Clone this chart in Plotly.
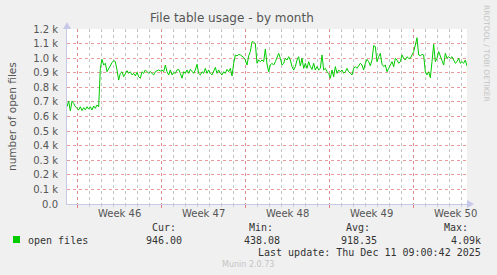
import pandas as pd
import plotly.graph_objects as go

# ---- data ----
series_start = "2025-11-09 03:20"
sample_minutes = 200
open_files = [
    667, 706, 638, 706, 690, 667, 656, 645, 667, 640,
    661, 645, 667, 651, 667, 645, 672, 656, 679, 667,
    930, 992, 953, 965, 907, 930, 953, 969, 983, 976,
    919, 850, 896, 907, 873, 896, 914, 896, 907, 885,
    896, 878, 903, 873, 862, 907, 896, 919, 907, 896,
    907, 896, 885, 907, 914, 919, 912, 919, 907, 953,
    907, 885, 919, 885, 901, 896, 919, 923, 896, 862,
    907, 896, 919, 896, 923, 907, 896, 919, 958, 896,
    885, 907, 896, 930, 896, 919, 896, 885, 907, 937,
    896, 919, 896, 885, 907, 896, 923, 907, 930, 878,
    965, 1022, 1015, 1026, 1022, 1015, 1006, 987, 953, 1015,
    1045, 1113, 1110, 1100, 965, 987, 976, 987, 976, 1063,
    960, 907, 953, 965, 953, 976, 999, 1033, 999, 953,
    965, 999, 987, 1010, 987, 942, 919, 942, 987, 1010,
    946, 999, 930, 965, 930, 976, 942, 923, 965, 919,
    942, 919, 930, 1022, 919, 930, 907, 896, 862, 919,
    873, 942, 896, 919, 907, 919, 896, 907, 930, 907,
    896, 885, 930, 942, 930, 953, 965, 953, 919, 965,
    992, 976, 948, 987, 1086, 1079, 976, 1010, 1033, 958,
    942, 953, 907, 930, 953, 976, 942, 999, 987, 965,
    976, 1022, 999, 987, 1010, 999, 999, 1022, 1045, 1090,
    1140, 1022, 1017, 1026, 1022, 907, 885, 907, 866, 976,
    1095, 976, 999, 1045, 1010, 976, 953, 1033, 999, 1010,
    999, 1010, 987, 965, 976, 999, 965, 976, 965, 987,
    946,
]
x_range = ["2025-11-09 03:20", "2025-12-12 11:20"]
week_starts = ["2025-11-10", "2025-11-17", "2025-11-24", "2025-12-01", "2025-12-08"]
week_labels = ["Week 46", "Week 47", "Week 48", "Week 49", "Week 50"]
y_tickvals = [0, 100, 200, 300, 400, 500, 600, 700, 800, 900, 1000, 1100, 1200]
y_ticktext = ["0.0", "0.1 k", "0.2 k", "0.3 k", "0.4 k", "0.5 k", "0.6 k",
              "0.7 k", "0.8 k", "0.9 k", "1.0 k", "1.1 k", "1.2 k"]
legend_name = "open files"
stat_heads = ["Cur:", "Min:", "Avg:", "Max:"]
stat_values = ["946.00", "438.08", "918.35", "4.09k"]
title_text = "File table usage - by month"
y_title = "number of open files"
last_update = "Last update: Thu Dec 11 09:00:42 2025"
footer = "Munin 2.0.73"
side_text = "RRDTOOL / TOBI OETIKER"

times = pd.date_range(series_start, periods=len(open_files), freq=f"{sample_minutes}min")

# ---- figure geometry (pixels) ----
W, H = 497, 275
L, R, T, B = 67, 467, 29, 204


def px(xp):
    return (xp - L) / (R - L)


def py(yp):
    return (B - yp) / (B - T)


SANS = "DejaVu Sans"
MONO = "DejaVu Sans Mono"

fig = go.Figure()
fig.add_trace(go.Scatter(x=times, y=open_files, mode="lines",
                         line=dict(color="#00CC00", width=1),
                         hoverinfo="skip", showlegend=False))

fig.update_layout(
    width=W, height=H,
    margin=dict(l=L, r=W - R, t=T, b=H - B, pad=0),
    paper_bgcolor="#F0F0F0", plot_bgcolor="#FFFFFF",
    showlegend=False,
    font=dict(family=SANS, size=10, color="#555555"),
)

fig.update_xaxes(
    type="date", range=x_range,
    tickmode="array", tickvals=week_starts, showticklabels=False,
    showgrid=True, gridcolor="rgba(225,120,120,0.75)", griddash="dot", gridwidth=1,
    ticks="outside", ticklen=3, tickcolor="rgba(225,120,120,0.9)",
    minor=dict(dtick=86400000, tick0="2025-11-10", showgrid=True,
               gridcolor="rgba(180,180,180,0.8)", griddash="dot", gridwidth=1,
               ticks="outside", ticklen=2, tickcolor="#C8C8C8"),
    showline=True, linecolor="#C8C8E8", linewidth=1, zeroline=False,
)
fig.update_yaxes(
    range=[0, 1200], tickmode="array", tickvals=y_tickvals, ticktext=y_ticktext,
    showgrid=True, gridcolor="rgba(225,120,120,0.75)", griddash="dot", gridwidth=1,
    ticks="", ticklabelstandoff=6, tickfont=dict(family=SANS, size=10, color="#555555"),
    showline=True, linecolor="#C8C8E8", linewidth=1, zeroline=False,
)

ann = []
# week labels centred in each week
for ws, lab in zip(week_starts, week_labels):
    mid = pd.Timestamp(ws) + pd.Timedelta(hours=84)
    ann.append(dict(x=mid, xref="x", y=py(213), yref="paper", text=lab,
                    showarrow=False, xanchor="center", yanchor="middle",
                    font=dict(family=SANS, size=10, color="#555555")))

ann.append(dict(x=px(232), y=py(18), xref="paper", yref="paper", text=title_text,
                showarrow=False, xanchor="center", yanchor="middle",
                font=dict(family=SANS, size=12, color="#555555")))
ann.append(dict(x=px(12), y=py(116), xref="paper", yref="paper", text=y_title,
                showarrow=False, textangle=-90, xanchor="center", yanchor="middle",
                font=dict(family=SANS, size=10.5, color="#555555")))
ann.append(dict(x=px(487), y=py(53), xref="paper", yref="paper", text=side_text,
                showarrow=False, textangle=90, xanchor="center", yanchor="middle",
                font=dict(family=SANS, size=7.5, color="#C4C4C4")))

# legend block
ann.append(dict(x=px(26), y=py(240), xref="paper", yref="paper", text=legend_name,
                showarrow=False, xanchor="left", yanchor="middle",
                font=dict(family=MONO, size=10, color="#333333")))
head_right = [178, 275, 372, 470]
val_right = [184, 282, 379, 483]
for h, hr in zip(stat_heads, head_right):
    ann.append(dict(x=px(hr), y=py(227), xref="paper", yref="paper", text=h,
                    showarrow=False, xanchor="right", yanchor="middle",
                    font=dict(family=MONO, size=10, color="#333333")))
for v, vr in zip(stat_values, val_right):
    ann.append(dict(x=px(vr), y=py(240), xref="paper", yref="paper", text=v,
                    showarrow=False, xanchor="right", yanchor="middle",
                    font=dict(family=MONO, size=10, color="#333333")))
ann.append(dict(x=px(483), y=py(252), xref="paper", yref="paper", text=last_update,
                showarrow=False, xanchor="right", yanchor="middle",
                font=dict(family=MONO, size=10, color="#333333")))
ann.append(dict(x=px(248), y=py(264), xref="paper", yref="paper", text=footer,
                showarrow=False, xanchor="center", yanchor="middle",
                font=dict(family=SANS, size=8, color="#C4C4C4")))
fig.update_layout(annotations=ann)

shapes = [
    dict(type="rect", xref="paper", yref="paper",
         x0=px(13), x1=px(20), y0=py(243), y1=py(236),
         fillcolor="#00CC00", line=dict(width=0)),
    # axis arrow heads
    dict(type="path", xref="paper", yref="paper",
         path=f"M {px(63)} {py(29)} L {px(71)} {py(29)} L {px(67)} {py(22)} Z",
         fillcolor="#C8C8E8", line=dict(width=0)),
    dict(type="path", xref="paper", yref="paper",
         path=f"M {px(467)} {py(200)} L {px(467)} {py(208)} L {px(474)} {py(204)} Z",
         fillcolor="#C8C8E8", line=dict(width=0)),
]
fig.update_layout(shapes=shapes)

fig.write_html("out.html")
